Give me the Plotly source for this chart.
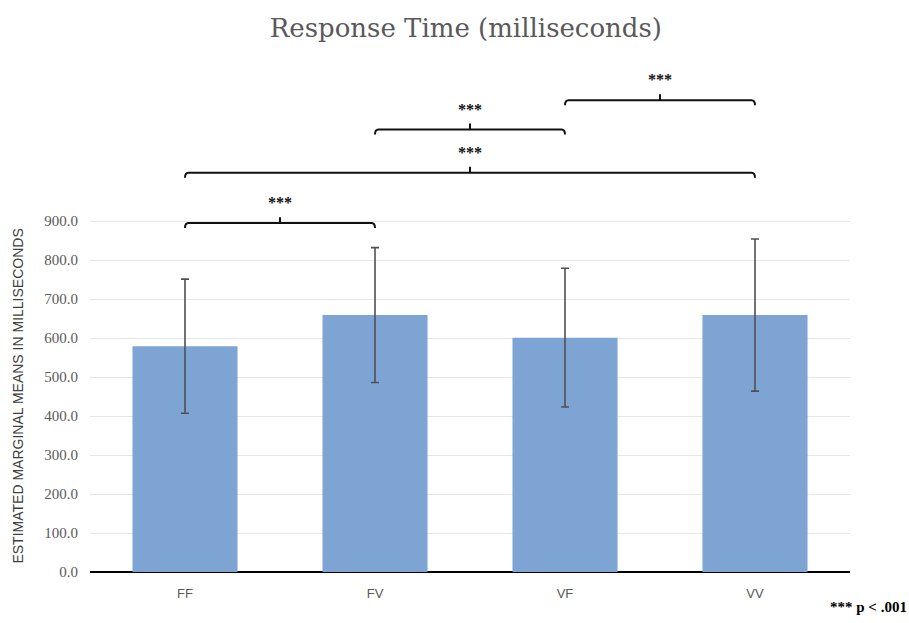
import plotly.graph_objects as go

# ---- data ----
categories = ["FF", "FV", "VF", "VV"]
means = [579, 659, 601, 659]
errors = [172, 173, 178, 195]
y_ticks = [0, 100, 200, 300, 400, 500, 600, 700, 800, 900]
y_tick_labels = [f"{v:.1f}" for v in y_ticks]
comparisons = [("FF", "FV", "***"), ("FF", "VV", "***"), ("FV", "VF", "***"), ("VF", "VV", "***")]

# ---- layout helpers (positions, not data) ----
bracket_levels = [895, 1024, 1135, 1210]
drop = 13       # end drop of bracket in y units
tick_up = 15    # centre tick height in y units
star_off = 52   # star label above bracket
curve_dx = 0.018

xpos = list(range(len(categories)))
idx = {c: i for i, c in enumerate(categories)}

fig = go.Figure()
fig.add_trace(go.Bar(
    x=xpos, y=means,
    marker=dict(color="#7ea4d4", line=dict(width=0)),
    error_y=dict(type="data", array=errors, visible=True, color="#505050", thickness=1.6, width=4),
    showlegend=False,
))

shapes = []
annotations = []
for (a, b, label), lvl in zip(comparisons, bracket_levels):
    x0, x1 = idx[a], idx[b]
    xm = (x0 + x1) / 2
    path = (f"M {x0},{lvl - drop} Q {x0},{lvl} {x0 + curve_dx},{lvl} "
            f"L {x1 - curve_dx},{lvl} Q {x1},{lvl} {x1},{lvl - drop}")
    shapes.append(dict(type="path", path=path, xref="x", yref="y",
                       line=dict(color="#111111", width=2)))
    shapes.append(dict(type="line", x0=xm, x1=xm, y0=lvl, y1=lvl + tick_up, xref="x", yref="y",
                       line=dict(color="#111111", width=2)))
    annotations.append(dict(x=xm, y=lvl + star_off, xref="x", yref="y", text=f"<b>{label}</b>",
                            showarrow=False, font=dict(family="Liberation Serif", size=16, color="#111111"),
                            xanchor="center", yanchor="middle"))

annotations.append(dict(x=-0.0947, y=450, xref="paper", yref="y",
                        text="ESTIMATED MARGINAL MEANS IN MILLISECONDS", textangle=-90,
                        showarrow=False, xanchor="center", yanchor="middle",
                        font=dict(family="Liberation Sans", size=14, color="#404040")))
annotations.append(dict(x=1.0776, y=-0.0696, xref="paper", yref="paper",
                        text="<b>*** p < .001</b>", showarrow=False, xanchor="right", yanchor="middle",
                        font=dict(family="Liberation Serif", size=15, color="#000000")))

fig.update_layout(
    width=909, height=623,
    margin=dict(l=90, r=59, t=69, b=51),
    paper_bgcolor="white", plot_bgcolor="white",
    bargap=0.447,
    title=dict(text="Response Time (milliseconds)", x=0.5125, xanchor="center", y=1 - 28 / 623,
               yanchor="middle", yref="container",
               font=dict(family="DejaVu Serif", size=26, color="#595959")),
    xaxis=dict(tickmode="array", tickvals=xpos, ticktext=categories, range=[-0.5, len(categories) - 0.5],
               showgrid=False, zeroline=False, showline=False, ticks="",
               ticklabelstandoff=12,
               tickfont=dict(family="Liberation Sans", size=13, color="#595959")),
    yaxis=dict(range=[0, 1290], tickmode="array", tickvals=y_ticks, ticktext=y_tick_labels,
               showgrid=True, gridcolor="#e6e6e6", gridwidth=1, zeroline=True, zerolinecolor="#000000",
               zerolinewidth=2, showline=False, ticks="", ticklabelstandoff=11,
               tickfont=dict(family="Liberation Serif", size=15, color="#595959")),
    shapes=shapes,
    annotations=annotations,
)

fig.write_html("out.html")
